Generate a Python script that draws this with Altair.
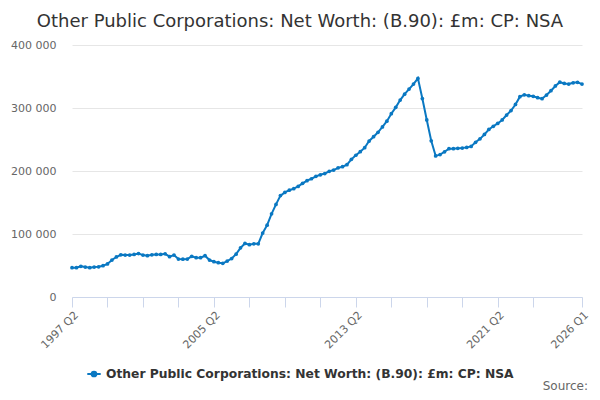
import altair as alt
import pandas as pd

SERIES = "Other Public Corporations: Net Worth: (B.90): £m: CP: NSA"

# quarterly values, £m (thousands)
values_k = [
    46.5, 46.5, 48.7, 47.6, 46.5, 47.5, 48.0, 49.7, 52.4, 58.7,
    63.5, 67.0, 66.5, 66.5, 67.5, 69.0, 66.5, 65.5, 67.0, 67.5,
    67.5, 68.5, 64.0, 66.5, 60.3, 60.0, 60.3, 64.5, 62.5, 62.5,
    65.5, 58.7, 56.0, 54.5, 53.5, 57.0, 61.0, 68.0, 78.0, 85.0,
    83.0, 84.5, 84.5, 101.5, 114.0, 132.0, 147.0, 161.0, 166.0, 169.5,
    172.0, 175.5, 180.4, 184.6, 187.7, 191.5, 194.0, 196.0, 199.5, 201.5,
    205.0, 206.8, 210.0, 218.5, 225.0, 230.6, 237.0, 247.6, 254.4, 261.4,
    270.0, 279.0, 291.0, 301.0, 312.6, 322.0, 330.0, 338.0, 347.0, 315.0,
    281.0, 248.0, 224.0, 226.0, 230.5, 235.4, 235.4, 236.0, 236.5, 237.5,
    239.0, 245.5, 251.0, 258.0, 266.0, 271.0, 275.5, 281.0, 288.8, 296.0,
    305.6, 318.0, 321.0, 319.5, 318.5, 316.3, 314.7, 320.6, 327.4, 335.0,
    341.0, 339.0, 338.0, 340.0, 340.8, 338.0,
]

quarters = []
y, q = 1997, 2
for _ in values_k:
    quarters.append(f"{y} Q{q}")
    q += 1
    if q > 4:
        q = 1
        y += 1

tick_quarters = [quarters[i] for i in range(0, 105, 8)] + [quarters[-1]]
label_quarters = ["1997 Q2", "2005 Q2", "2013 Q2", "2021 Q2", "2026 Q1"]

df = pd.DataFrame({
    "quarter": quarters,
    "value": [v * 1000 for v in values_k],
    "series": [SERIES] * len(quarters),
})

BLUE = "#0a78c2"
FONT = "DejaVu Sans"

label_expr = "indexof(" + str(label_quarters) + ", datum.value) >= 0 ? datum.value : ''"

line = alt.Chart(df).mark_line(
    point=alt.OverlayMarkDef(size=14, filled=True, opacity=1),
    strokeWidth=2,
).encode(
    x=alt.X("quarter:O", sort=quarters, title=None,
            scale=alt.Scale(type="point", padding=0),
            axis=alt.Axis(values=tick_quarters, labelExpr=label_expr, labelAngle=-45,
                          labelColor="#666666", labelFontSize=11, labelFont=FONT,
                          tickColor="#ccd6eb", domainColor="#ccd6eb", tickSize=10,
                          labelPadding=2, grid=False)),
    y=alt.Y("value:Q", title=None,
            scale=alt.Scale(domain=[0, 400000], nice=False),
            axis=alt.Axis(values=[0, 100000, 200000, 300000, 400000],
                          labelExpr="datum.value == 0 ? '0' : format(datum.value/1000, 'd') + ' 000'",
                          labelColor="#666666", labelFontSize=11, labelFont=FONT,
                          domain=False, ticks=False, labelPadding=16,
                          gridColor="#e6e6e6")),
    color=alt.Color("series:N", scale=alt.Scale(range=[BLUE]),
                    legend=alt.Legend(title=None, orient="none", legendX=14, legendY=321,
                                      symbolType="M-1,0L1,0M-0.35,0a0.35,0.35 0 1,0 0.7,0a0.35,0.35 0 1,0 -0.7,0",
                                      symbolSize=180, symbolStrokeWidth=2,
                                      symbolFillColor=BLUE,
                                      labelFont=FONT, labelFontSize=12.3, labelFontWeight="bold",
                                      labelColor="#333333", labelLimit=600)),
)

source = alt.Chart(pd.DataFrame({"t": ["Source:"]})).mark_text(
    align="right", baseline="alphabetic", font=FONT, fontSize=12, color="#666666",
).encode(x=alt.value(516), y=alt.value(345), text="t:N")

chart = alt.layer(line, source).properties(
    width=510, height=252,
    padding={"left": 64, "top": 37, "right": 10, "bottom": 95},
    autosize=alt.AutoSizeParams(type="none"),
    title=alt.TitleParams(SERIES, anchor="middle", frame="group", dx=-27, offset=8,
                          font=FONT, fontSize=18, fontWeight="normal", color="#333333"),
).configure_view(stroke=None)

chart.save("out.html", embed_options={"renderer": "svg", "actions": False})
